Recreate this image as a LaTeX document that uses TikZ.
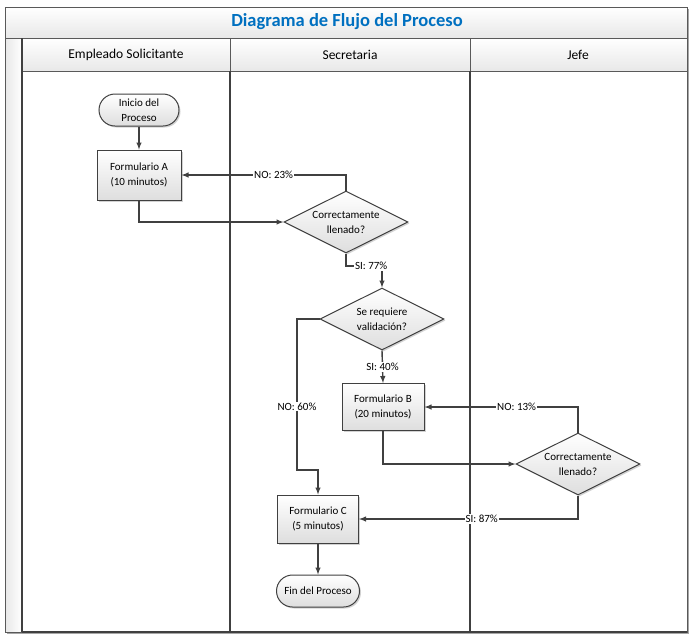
\documentclass[tikz,border=0pt]{standalone}
\usepackage{fontspec}
\setmainfont{Carlito}
\usepackage{xcolor}
\usetikzlibrary{arrows,shapes.geometric,shadows}
\definecolor{titleblue}{RGB}{0,112,192}
\definecolor{linegray}{RGB}{64,64,64}

\begin{document}
\begin{tikzpicture}[x=1pt,y=-1pt,
  box/.style={rectangle,draw=linegray,line width=1pt,top color=white,bottom color=black!13,
    minimum width=82pt,minimum height=48pt,align=center,font=\fontsize{11}{15}\selectfont,
    drop shadow={shadow xshift=1.5pt,shadow yshift=-1.5pt,fill=black!35}},
  term/.style={rectangle,rounded corners=16pt,draw=linegray,line width=1pt,top color=white,bottom color=black!13,
    minimum height=32pt,align=center,font=\fontsize{11}{15}\selectfont,
    drop shadow={shadow xshift=1.5pt,shadow yshift=-1.5pt,fill=black!35}},
  decision/.style={diamond,aspect=2,inner sep=0pt,draw=linegray,line width=1pt,top color=white,bottom color=black!13,
    minimum width=124pt,minimum height=62pt,align=center,font=\fontsize{11}{15}\selectfont,
    drop shadow={shadow xshift=1.5pt,shadow yshift=-1.5pt,fill=black!35}},
  flow/.style={draw=linegray,line width=1.4pt,-latex},
  lbl/.style={fill=white,inner sep=1pt,font=\fontsize{11}{13}\selectfont},
  lane/.style={font=\fontsize{13.5}{16}\selectfont}]
  \useasboundingbox (0,0) rectangle (696,641);
  \fill[white] (0,0) rectangle (696,641);

  % marco de las calles
  \fill[black!35] (7,9) rectangle (689,634);
  \fill[white] (5,7) rectangle (687,632);
  \shade[top color=white,bottom color=black!9] (5,7) rectangle (687,38);
  \shade[top color=white,bottom color=black!9] (22,38) rectangle (687,71);
  \shade[left color=black!9,right color=white] (5,38) rectangle (22,632);
  \draw[black!65,line width=0.8pt] (5,7) rectangle (687,632);
  \draw[black!65,line width=0.8pt] (5,38) -- (687,38);
  \draw[black!65,line width=0.8pt] (22,71) -- (687,71);
  \draw[black!65,line width=0.8pt] (230,38) -- (230,71);
  \draw[black!65,line width=0.8pt] (470,38) -- (470,71);
  \draw[linegray,line width=1.5pt] (22,38) -- (22,632);
  \draw[linegray,line width=2pt] (230,71) -- (230,632);
  \draw[linegray,line width=2pt] (470,71) -- (470,632);
  \draw[linegray,line width=2pt] (22,632) -- (687,632);

  \node[font=\fontsize{18.5}{22}\selectfont\bfseries,text=titleblue] (titulo) at (347,22) {Diagrama de Flujo del Proceso};
  \node[lane] (empleado) at (126,55) {Empleado Solicitante};
  \node[lane] (secretaria) at (350,55) {Secretaria};
  \node[lane] (jefe) at (578,55) {Jefe};

  % nodos
  \node[term,minimum width=80pt] (inicio) at (139,110) {Inicio del\\Proceso};
  \node[box,minimum width=84pt,minimum height=50pt] (formA) at (139,175) {Formulario A\\(10 minutos)};
  \node[decision] (llenado1) at (346,222) {Correctamente\\llenado?};
  \node[decision] (valida) at (382,319) {Se requiere\\validación?};
  \node[box,minimum height=47pt] (formB) at (383,407) {Formulario B\\(20 minutos)};
  \node[decision] (llenado2) at (578,464) {Correctamente\\llenado?};
  \node[box,minimum width=81pt] (formC) at (318,519) {Formulario C\\(5 minutos)};
  \node[term,minimum width=83pt] (fin) at (318,591) {Fin del Proceso};
  \coordinate (si77) at (382,266);
  \coordinate (no60) at (297,470);

  % conectores
  \draw[flow] (inicio) -- (formA);
  \draw[flow] (formA.south) |- (llenado1.west);
  \draw[flow] (llenado1.north) |- (formA.east) node[lbl,pos=0.72] {NO: 23\%};
  \draw[flow] (llenado1.south) |- (si77) node[lbl,pos=0.85] {SI: 77\%} -- (valida.north);
  \draw[flow] (valida.south) -- (formB.north) node[lbl,midway] {SI: 40\%};
  \draw[flow] (valida.west) -| (no60) node[lbl,pos=0.79] {NO: 60\%} -| (formC.north);
  \draw[flow] (formB.south) |- (llenado2.west);
  \draw[flow] (llenado2.north) |- (formB.east) node[lbl,pos=0.7] {NO: 13\%};
  \draw[flow] (llenado2.south) |- (formC.east) node[lbl,pos=0.72] {SI: 87\%};
  \draw[flow] (formC) -- (fin);
\end{tikzpicture}
\end{document}
